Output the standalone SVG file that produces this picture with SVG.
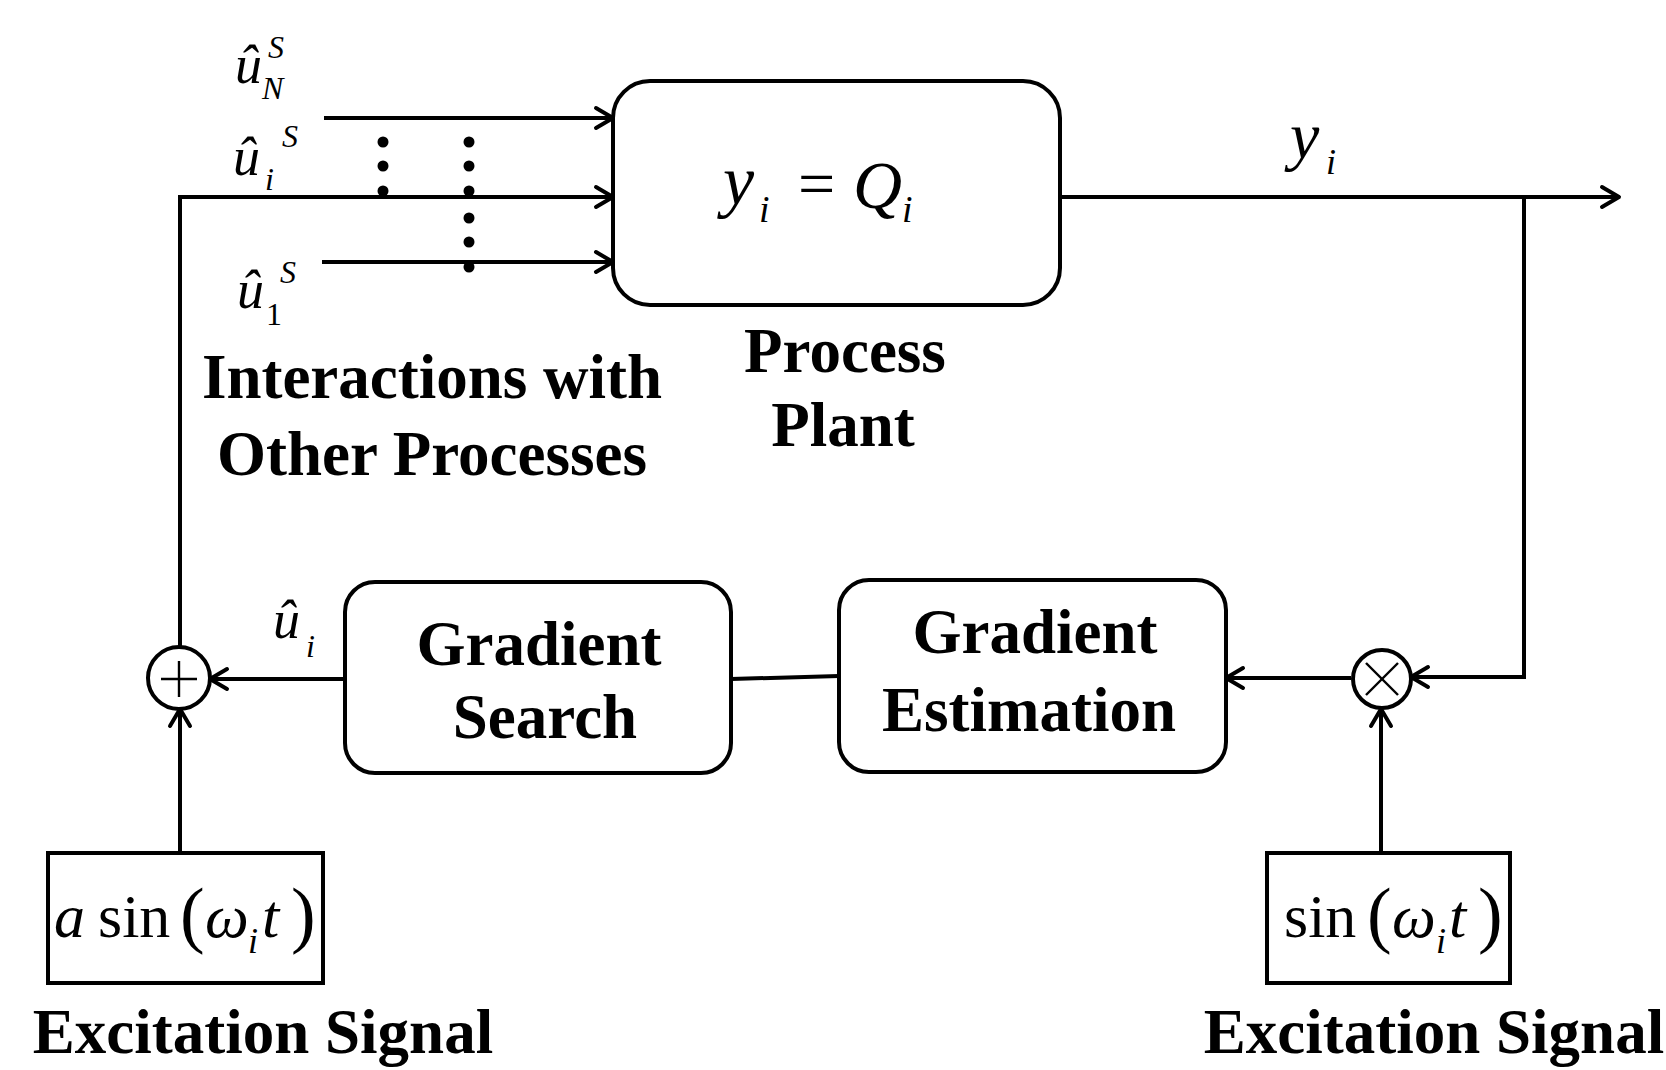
<svg xmlns="http://www.w3.org/2000/svg" width="1666" height="1070" viewBox="0 0 1666 1070">
<style>
.box{fill:#fff;stroke:#000;stroke-width:4}
.ln{fill:none;stroke:#000;stroke-width:4}
.thin{fill:none;stroke:#000;stroke-width:2.4}
.lbl{font-family:"Liberation Serif","Times New Roman",serif;font-weight:bold;font-size:63px;fill:#000;text-anchor:middle}
.m{font-family:"Liberation Serif","Times New Roman",serif;font-style:italic;fill:#000}
.r{font-family:"Liberation Serif","Times New Roman",serif;font-style:normal;fill:#000}
.it{font-style:italic}
</style>
<defs>
<marker id="arr" markerUnits="userSpaceOnUse" markerWidth="30" markerHeight="30" viewBox="-24 -15 28 30" refX="-1" refY="0" orient="auto">
<path d="M-17,-10 L0,0 L-17,10" fill="none" stroke="#000" stroke-width="4" stroke-linecap="round" stroke-linejoin="round"/>
</marker>
</defs>
<rect width="1666" height="1070" fill="#fff"/>

<g id="connectors">
<line class="ln" x1="324" y1="118" x2="612" y2="118" marker-end="url(#arr)"/>
<path class="ln" d="M180,646 L180,197 L612,197" marker-end="url(#arr)"/>
<line class="ln" x1="322" y1="262" x2="612" y2="262" marker-end="url(#arr)"/>
<line class="ln" x1="1060" y1="197" x2="1618" y2="197" marker-end="url(#arr)"/>
<path class="ln" d="M1524,197 L1524,677 L1412,677" marker-end="url(#arr)"/>
<line class="ln" x1="1351" y1="678" x2="1227" y2="678" marker-end="url(#arr)"/>
<line class="ln" x1="839" y1="676" x2="731" y2="679"/>
<line class="ln" x1="345" y1="679" x2="211" y2="679" marker-end="url(#arr)"/>
<line class="ln" x1="180" y1="853" x2="180" y2="710" marker-end="url(#arr)"/>
<line class="ln" x1="1381" y1="853" x2="1381" y2="710" marker-end="url(#arr)"/>
<g id="dots" fill="#000">
<circle cx="383" cy="142" r="5.5"/><circle cx="383" cy="166" r="5.5"/><circle cx="383" cy="191" r="5.5"/>
<circle cx="469" cy="142" r="5.5"/><circle cx="469" cy="166" r="5.5"/><circle cx="469" cy="191" r="5.5"/>
<circle cx="469" cy="218" r="5.5"/><circle cx="469" cy="242" r="5.5"/><circle cx="469" cy="267" r="5.5"/>
</g>
</g>

<g id="inputs-labels">
<text class="m"><tspan x="235" y="83" font-size="54">û</tspan><tspan x="268" y="58" font-size="32">S</tspan><tspan x="262" y="99" font-size="32">N</tspan></text>
<text class="m"><tspan x="233" y="175" font-size="54">û</tspan><tspan x="282" y="147" font-size="32">S</tspan><tspan x="265" y="190" font-size="32">i</tspan></text>
<text class="m"><tspan x="237" y="308" font-size="54">û</tspan><tspan x="280" y="283" font-size="32">S</tspan><tspan class="r" x="266" y="325" font-size="32">1</tspan></text>
<text class="lbl" x="432" y="398">Interactions with</text>
<text class="lbl" x="432" y="475">Other Processes</text>
</g>

<g id="plant">
<rect class="box" x="613" y="81" width="447" height="224" rx="37" ry="37"/>
<text class="m"><tspan x="723" y="204" font-size="70">y</tspan><tspan x="759" y="222" font-size="38">i</tspan><tspan class="r" x="798" y="206" font-size="66">=</tspan><tspan x="853" y="208" font-size="68">Q</tspan><tspan x="902" y="222" font-size="38">i</tspan></text>
<text class="lbl" x="845" y="372">Process</text>
<text class="lbl" x="843" y="446">Plant</text>
</g>

<g id="output-label">
<text class="m"><tspan x="1290" y="158" font-size="66">y</tspan><tspan x="1326" y="174" font-size="36">i</tspan></text>
</g>

<g id="sum">
<circle class="box" cx="179" cy="678" r="31"/>
<line class="thin" x1="161" y1="679" x2="197" y2="679"/>
<line class="thin" x1="179" y1="661" x2="179" y2="697"/>
</g>

<g id="uhat-label">
<text class="m"><tspan x="273" y="638" font-size="54">û</tspan><tspan x="306" y="657" font-size="32">i</tspan></text>
</g>

<g id="gradient-search">
<rect class="box" x="345" y="582" width="386" height="191" rx="30" ry="30"/>
<text class="lbl" x="539" y="665">Gradient</text>
<text class="lbl" x="545" y="738">Search</text>
</g>

<g id="gradient-estimation">
<rect class="box" x="839" y="580" width="387" height="192" rx="30" ry="30"/>
<text class="lbl" x="1035" y="653">Gradient</text>
<text class="lbl" x="1029" y="731">Estimation</text>
</g>

<g id="mult">
<circle class="box" cx="1382" cy="679" r="29"/>
<line class="thin" x1="1366" y1="663" x2="1398" y2="695"/>
<line class="thin" x1="1398" y1="663" x2="1366" y2="695"/>
</g>

<g id="excitation-left">
<rect class="box" x="48" y="853" width="275" height="130"/>
<text class="r"><tspan class="it" x="54" y="937" font-size="62">a</tspan><tspan x="98" y="937" font-size="62">sin</tspan><tspan x="180" y="939" font-size="74">(</tspan><tspan class="it" x="205" y="937" font-size="62">ω</tspan><tspan class="it" x="248" y="953" font-size="36">i</tspan><tspan class="it" x="262" y="937" font-size="62">t</tspan><tspan x="291" y="939" font-size="74">)</tspan></text>
<text class="lbl" x="263" y="1053">Excitation Signal</text>
</g>

<g id="excitation-right">
<rect class="box" x="1267" y="853" width="243" height="130"/>
<text class="r"><tspan x="1284" y="937" font-size="62">sin</tspan><tspan x="1367" y="939" font-size="74">(</tspan><tspan class="it" x="1392" y="937" font-size="62">ω</tspan><tspan class="it" x="1436" y="953" font-size="36">i</tspan><tspan class="it" x="1449" y="937" font-size="62">t</tspan><tspan x="1478" y="939" font-size="74">)</tspan></text>
<text class="lbl" x="1434" y="1053">Excitation Signal</text>
</g>
</svg>
